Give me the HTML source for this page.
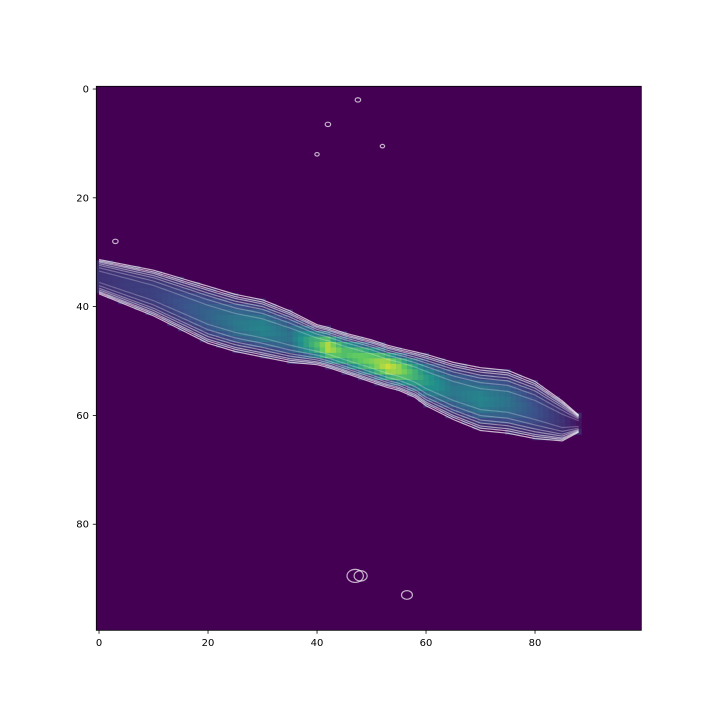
<!DOCTYPE html>
<html><head><meta charset="utf-8"><style>
html,body{margin:0;padding:0;background:#fff;}
svg{display:block;font-family:"DejaVu Sans","Liberation Sans",sans-serif;}
</style></head><body>
<svg id="chart" width="720" height="720" viewBox="0 0 720 720">
<defs><clipPath id="clip"><rect x="96.3" y="86.3" width="545" height="544"/></clipPath></defs>
<rect x="96.3" y="86.3" width="545" height="544" fill="#440154"/>
<g id="cells" clip-path="url(#clip)"></g>
<g id="contours" clip-path="url(#clip)" fill="none" stroke="#fff"></g>
<rect x="96.3" y="86.3" width="545" height="544" fill="none" stroke="#000" stroke-width="0.8"/>
<g id="axes" font-size="10" fill="#000"></g>
</svg>
<script>
const sampleX=[0,5,10,15,20,25,30,35,40,42,45,50,53,55,58,60,65,70,75,80,85,88];
const centerRow=[34.5,36,37.5,39.5,41.5,43,44,45.5,47,47.5,48.5,50,51,51.5,52.5,53.5,55.5,57,57.5,59,61,61.5];
const halfWidth=[3,3.5,4,4.5,5,5,5,4.5,3.5,3.5,3.5,3.7,3.7,3.7,4,4.5,5,5.5,5.5,5,3.5,1.5];
const peakValue=[0.15,0.18,0.2,0.25,0.32,0.4,0.45,0.38,0.7,0.9,0.72,0.8,0.92,0.85,0.65,0.55,0.4,0.45,0.38,0.25,0.15,0.05];
const xTicks=[0,20,40,60,80];
const yTicks=[0,20,40,60,80];
const blobX=[47,48,56.5,42,47.5,3,40,52];
const blobY=[89.5,89.5,93,6.5,2,28,12,10.5];
const blobR=[1.5,1.2,1,0.5,0.5,0.5,0.4,0.4];

const NS="http://www.w3.org/2000/svg";
const x0=96.3,y0=86.3,cw=5.45,ch=5.44;
const sx=v=>x0+(v+0.5)*cw, sy=v=>y0+(v+0.5)*ch;
const stops=[[0,[68,1,84]],[0.25,[59,82,139]],[0.5,[33,145,140]],[0.75,[94,201,98]],[1,[253,231,37]]];
function viridis(t){t=Math.max(0,Math.min(1,t));for(let i=1;i<stops.length;i++){if(t<=stops[i][0]){const a=stops[i-1],b=stops[i],f=(t-a[0])/(b[0]-a[0]);const c=a[1].map((v,k)=>Math.round(v+(b[1][k]-v)*f));return `rgb(${c})`;}}return "rgb(253,231,37)";}
function interp(arr,x){for(let i=1;i<sampleX.length;i++){if(x<=sampleX[i]){const f=(x-sampleX[i-1])/(sampleX[i]-sampleX[i-1]);return arr[i-1]+(arr[i]-arr[i-1])*f;}}return arr[arr.length-1];}
const cells=document.getElementById('cells');
const maxX=sampleX[sampleX.length-1];
for(let cx=0;cx<=maxX;cx++){
  const c=interp(centerRow,cx),hw=interp(halfWidth,cx),p=interp(peakValue,cx);
  for(let r=Math.floor(c-hw);r<=Math.ceil(c+hw);r++){
    const d=Math.abs(r-c)/hw; if(d>1)continue;
    const v=0.12+(p-0.12)*Math.max(0,1-d*d*1.4);
    const el=document.createElementNS(NS,'rect');
    
    
    el.setAttribute('x',sx(cx)-cw/2);el.setAttribute('y',sy(r)-ch/2);
    el.setAttribute('width',cw+0.3);el.setAttribute('height',ch+0.3);
    el.setAttribute('fill',viridis(v));
    cells.appendChild(el);
  }
}
const cont=document.getElementById('contours');
[1.05,0.97,0.9,0.8,0.7,0.55,0.35].forEach((k,i)=>{
  [1,-1].forEach(s=>{
    let pts=[];
    for(let cx=0;cx<=maxX;cx+=1){const c=interp(centerRow,cx),hw=interp(halfWidth,cx);pts.push(sx(cx)+','+sy(c+s*hw*k));}
    const pl=document.createElementNS(NS,'polyline');
    
    
    pl.setAttribute('points',pts.join(' '));
    pl.setAttribute('stroke-opacity',Math.max(0.25,0.7-i*0.08));
    pl.setAttribute('stroke-width',1.2);
    cont.appendChild(pl);
  });
});
blobX.forEach((bx,i)=>{
  const e=document.createElementNS(NS,'ellipse');
  
  
  e.setAttribute('cx',sx(bx));e.setAttribute('cy',sy(blobY[i]));
  e.setAttribute('rx',blobR[i]*cw);e.setAttribute('ry',blobR[i]*ch*0.8);
  e.setAttribute('stroke-opacity',0.7);e.setAttribute('stroke-width',1.2);
  cont.appendChild(e);
});
const axes=document.getElementById('axes');
xTicks.forEach(t=>{
  const l=document.createElementNS(NS,'line');
  
  
  l.setAttribute('x1',sx(t));l.setAttribute('x2',sx(t));l.setAttribute('y1',630.3);l.setAttribute('y2',633.8);l.setAttribute('stroke','#000');l.setAttribute('stroke-width',0.8);
  axes.appendChild(l);
  const tx=document.createElementNS(NS,'text');
  
  
  tx.setAttribute('x',sx(t));tx.setAttribute('y',646);tx.setAttribute('text-anchor','middle');tx.textContent=t;
  axes.appendChild(tx);
});
yTicks.forEach(t=>{
  const l=document.createElementNS(NS,'line');
  
  
  l.setAttribute('x1',92.8);l.setAttribute('x2',96.3);l.setAttribute('y1',sy(t));l.setAttribute('y2',sy(t));l.setAttribute('stroke','#000');l.setAttribute('stroke-width',0.8);
  axes.appendChild(l);
  const tx=document.createElementNS(NS,'text');
  
  
  tx.setAttribute('x',89);tx.setAttribute('y',sy(t)+3.5);tx.setAttribute('text-anchor','end');tx.textContent=t;
  axes.appendChild(tx);
});
</script>
</body></html>
